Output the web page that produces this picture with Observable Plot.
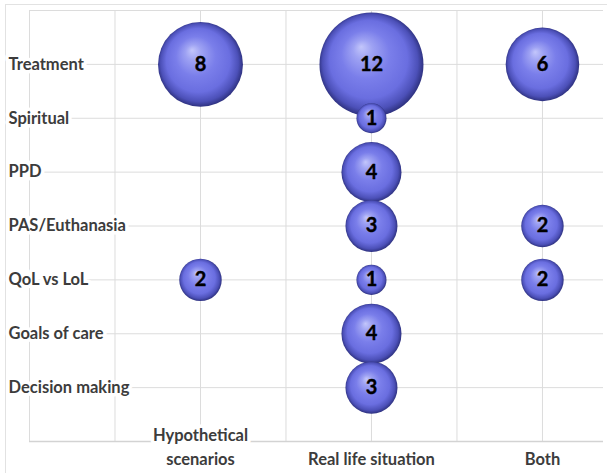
<!DOCTYPE html>
<html>
<head>
<meta charset="utf-8">
<script src="https://cdn.jsdelivr.net/npm/d3@7"></script>
<script src="https://cdn.jsdelivr.net/npm/@observablehq/plot@0.6"></script>
<style>
  html, body { margin: 0; padding: 0; background: #ffffff; }
</style>
</head>
<body>
<div id="chart"></div>
<script>
// Row categories (top to bottom)
const categories = ["Treatment", "Spiritual", "PPD", "PAS/Euthanasia", "QoL vs LoL", "Goals of care", "Decision making"];
// Column tick labels
const contexts = ["Hypothetical\nscenarios", "Real life situation", "Both"];
// Counts per column, in the order of categories (0 = no bubble)
const hypothetical = [8, 0, 0, 0, 2, 0, 0];
const realLife     = [12, 1, 4, 3, 1, 4, 3];
const both         = [6, 0, 0, 2, 2, 0, 0];

const series = [hypothetical, realLife, both];
const data = [];
categories.forEach((cat, i) => {
  series.forEach((vals, j) => {
    if (vals[i] > 0) data.push({category: cat, row: categories.length - i, col: j + 1, value: vals[i]});
  });
});
const rowOf = c => categories.length - categories.indexOf(c);

const chart = Plot.plot({
  width: 607,
  height: 473,
  marginLeft: 29,
  marginRight: 4,
  marginTop: 10,
  marginBottom: 32,
  style: {fontFamily: "Lato, 'Open Sans', sans-serif", background: "#ffffff"},
  x: {domain: [0, 3.357], axis: null},
  y: {domain: [0, 8], axis: null},
  r: {domain: [0, 12], range: [0, 52]},
  marks: [
    Plot.frame({stroke: "#e2e2e2", insetLeft: -24, insetTop: -6, insetRight: -30, insetBottom: -80}),
    Plot.gridX(d3.range(0, 3.01, 0.5), {stroke: "#dcdcdc", strokeOpacity: 1}),
    Plot.gridY(d3.range(1, 9), {stroke: "#dcdcdc", strokeOpacity: 1}),
    Plot.ruleY([0], {stroke: "#d3d3d3", strokeWidth: 1.5}),
    Plot.text(categories, {
      y: rowOf, text: d => d, frameAnchor: "left", textAnchor: "start", dx: -21,
      fontSize: 16.5, fontWeight: "bold", fill: "#3c3c3c",
      stroke: "white", strokeWidth: 7
    }),
    Plot.text(contexts, {
      x: (d, i) => i + 1, text: d => d, frameAnchor: "bottom", lineAnchor: "bottom",
      dy: 23, lineHeight: 1.4,
      fontSize: 16.5, fontWeight: "bold", fill: "#3c3c3c",
      stroke: "white", strokeWidth: 7
    }),
    Plot.dot(data, {x: "col", y: "row", r: "value", fill: "url(#sphere)", stroke: "none"}),
    Plot.text(data, {x: "col", y: "row", text: "value", fontSize: 20, fontWeight: "bold", fill: "#000000", stroke: "#000000", strokeWidth: 0.4})
  ]
});

const defs = d3.select(chart).insert("defs", ":first-child");
const g = defs.append("radialGradient")
  .attr("id", "sphere")
  .attr("cx", "0.5").attr("cy", "0.5").attr("r", "0.52")
  .attr("fx", "0.4").attr("fy", "0.33");
[
  ["0%", "#c3c6fb"],
  ["18%", "#9ea2f3"],
  ["45%", "#7a7eea"],
  ["72%", "#6a6ee0"],
  ["88%", "#4c50b8"],
  ["100%", "#25286e"]
].forEach(([o, c]) => g.append("stop").attr("offset", o).attr("stop-color", c));

document.getElementById("chart").appendChild(chart);
</script>
</body>
</html>
